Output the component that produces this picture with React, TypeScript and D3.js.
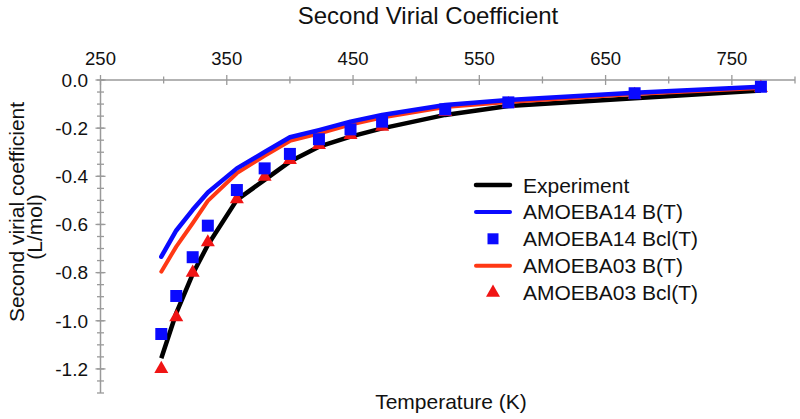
import * as d3 from 'd3'

// temperatures (K) and second virial coefficients (L/mol)
const temps = [298.15, 310, 323, 335, 358, 380, 400, 423, 448, 473, 523, 573, 673, 773]
const experiment = [-1.156, -0.968, -0.806, -0.685, -0.498, -0.415, -0.339, -0.277, -0.235, -0.201, -0.145, -0.108, -0.076, -0.044]
const amoeba14B = [-0.734, -0.625, -0.539, -0.467, -0.367, -0.299, -0.238, -0.208, -0.173, -0.145, -0.104, -0.083, -0.053, -0.028]
const amoeba14Bcl = [-1.055, -0.897, -0.736, -0.605, -0.457, -0.367, -0.307, -0.246, -0.205, -0.173, -0.122, -0.093, -0.055, -0.028]
const amoeba03B = [-0.796, -0.692, -0.595, -0.502, -0.387, -0.315, -0.253, -0.222, -0.185, -0.156, -0.112, -0.091, -0.058, -0.033]
const amoeba03Bcl = [-1.2, -0.985, -0.8, -0.674, -0.495, -0.402, -0.332, -0.27, -0.228, -0.194, -0.133, -0.1, -0.062, -0.033]

const xMajor = [250, 350, 450, 550, 650, 750]
const xMinor = [300, 400, 500, 600, 700, 800]
const yMajor = [0, -0.2, -0.4, -0.6, -0.8, -1.0, -1.2]

const legendNames = ['Experiment', 'AMOEBA14 B(T)', 'AMOEBA14 Bcl(T)', 'AMOEBA03 B(T)', 'AMOEBA03 Bcl(T)']

const FONT = '"Liberation Sans", Arial, Helvetica, sans-serif'
const AXIS = '#9a9a9a'
const BLUE = '#0a0aff'
const RED = '#ff3814'
const TRI_RED = '#f01414'

export default function App() {
  const width = 800
  const height = 419

  const x = d3.scaleLinear().domain([250, 800]).range([100.5, 795])
  const y = d3.scaleLinear().domain([0, -1.3]).range([80, 393])

  const yMinor = d3.range(0, 27).map(i => -i * 0.05)

  const line = d3.line<[number, number]>()
    .x(d => x(d[0]))
    .y(d => y(d[1]))

  const pairs = (vals: number[]) => temps.map((t, i) => [t, vals[i]] as [number, number])

  const square = d3.symbol().type(d3.symbolSquare).size(144)()
  const triangle = d3.symbol().type(d3.symbolTriangle).size(85)()

  const legendX = 476
  const legendY = 185
  const legendStep = 26.9

  return (
    <svg
      width={width}
      height={height}
      style={{ position: 'absolute', left: 0, top: 0, background: '#fff', fontFamily: FONT }}
    >
      {/* title */}
      <text x={428} y={24} textAnchor="middle" fontSize={24} fill="#111">
        Second Virial Coefficient
      </text>

      {/* top x axis on y = 0 */}
      <line x1={x(250)} x2={x(800)} y1={y(0)} y2={y(0)} stroke={AXIS} strokeWidth={1.5} />
      {xMajor.map(t => (
        <g key={'xM' + t}>
          <line x1={x(t)} x2={x(t)} y1={y(0) - 5} y2={y(0) + 5} stroke={AXIS} strokeWidth={1.3} />
          <text x={x(t)} y={65} textAnchor="middle" fontSize={18.5} fill="#111">{t}</text>
        </g>
      ))}
      {xMinor.map(t => (
        <line key={'xm' + t} x1={x(t)} x2={x(t)} y1={y(0) - 3.5} y2={y(0) + 3.5} stroke={AXIS} strokeWidth={1.3} />
      ))}

      {/* left y axis */}
      <line x1={x(250)} x2={x(250)} y1={y(0)} y2={y(-1.3)} stroke={AXIS} strokeWidth={1.5} />
      {yMinor.map(v => (
        <line key={'ym' + v} x1={x(250) - 3.5} x2={x(250) + 3.5} y1={y(v)} y2={y(v)} stroke={AXIS} strokeWidth={1.3} />
      ))}
      {yMajor.map(v => (
        <g key={'yM' + v}>
          <line x1={x(250) - 5} x2={x(250) + 5} y1={y(v)} y2={y(v)} stroke={AXIS} strokeWidth={1.3} />
          <text x={88} y={y(v)} dy="0.36em" textAnchor="end" fontSize={19} fill="#111">
            {d3.format('.1f')(v).replace('−', '-')}
          </text>
        </g>
      ))}

      {/* axis titles */}
      <text transform="translate(24,212) rotate(-90)" textAnchor="middle" fontSize={21} fill="#111">
        Second virial coefficient
      </text>
      <text transform="translate(42,227) rotate(-90)" textAnchor="middle" fontSize={21} fill="#111">
        (L/mol)
      </text>
      <text x={451} y={409} textAnchor="middle" fontSize={21} fill="#111">
        Temperature (K)
      </text>

      {/* series */}
      <path d={line(pairs(experiment)) || ''} fill="none" stroke="#000" strokeWidth={4.5} strokeLinejoin="round" />
      <path d={line(pairs(amoeba03B)) || ''} fill="none" stroke={RED} strokeWidth={4} strokeLinecap="round" strokeLinejoin="round" />
      <path d={line(pairs(amoeba14B)) || ''} fill="none" stroke={BLUE} strokeWidth={4.5} strokeLinecap="round" strokeLinejoin="round" />
      {amoeba03Bcl.map((v, i) => (
        <path key={'tri' + i} d={triangle || ''} transform={`translate(${x(temps[i])},${y(v)})`} fill={TRI_RED} />
      ))}
      {amoeba14Bcl.map((v, i) => (
        <path key={'sq' + i} d={square || ''} transform={`translate(${x(temps[i])},${y(v)})`} fill={BLUE} />
      ))}

      {/* legend */}
      {legendNames.map((name, i) => {
        const ly = legendY + i * legendStep
        let mark = null
        if (i === 0) mark = <line x1={legendX} x2={legendX + 34} y1={ly} y2={ly} stroke="#000" strokeWidth={4.5} strokeLinecap="round" />
        if (i === 1) mark = <line x1={legendX} x2={legendX + 34} y1={ly} y2={ly} stroke={BLUE} strokeWidth={4} strokeLinecap="round" />
        if (i === 2) mark = <path d={d3.symbol().type(d3.symbolSquare).size(121)() || ''} transform={`translate(${legendX + 17},${ly})`} fill={BLUE} />
        if (i === 3) mark = <line x1={legendX} x2={legendX + 34} y1={ly} y2={ly} stroke={RED} strokeWidth={4} strokeLinecap="round" />
        if (i === 4) mark = <path d={triangle || ''} transform={`translate(${legendX + 17},${ly})`} fill={TRI_RED} />
        return (
          <g key={name}>
            {mark}
            <text x={523} y={ly} dy="0.36em" fontSize={21} fill="#111">{name}</text>
          </g>
        )
      })}
    </svg>
  )
}
